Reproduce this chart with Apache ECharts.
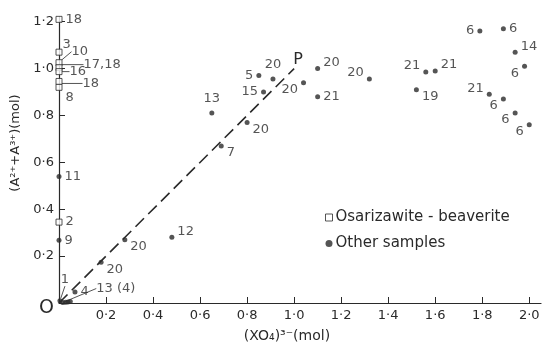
<!DOCTYPE html>
<html>
<head>
<meta charset="utf-8">
<script src="https://cdn.jsdelivr.net/npm/echarts@6/dist/echarts.min.js"></script>
<style>
  html, body { margin: 0; padding: 0; background: #fff; }
  #chart { width: 543px; height: 348px; }
</style>
</head>
<body>
<div id="chart"></div>
<script>
// Osarizawite-beaverite group: plotted on the vertical axis (XO4 = 0)
const sqX   = [0, 0, 0, 0, 0, 0, 0, 0];
const sqY   = [1.21, 1.07, 1.025, 1.004, 0.987, 0.945, 0.92, 0.345];
const sqTag = ['18', '3', '10', '17,18', '16', '18', '8', '2'];

// Other samples
const otX = [0, 0, 0.004, 0.016, 0.028, 0.038, 0.048, 0.068, 0.179, 0.28, 0.48, 0.69, 0.80, 0.65, 0.87, 0.85,
             0.91, 1.04, 1.10, 1.10, 1.32, 1.52, 1.56, 1.60, 1.79, 1.89, 1.94, 1.98, 1.83, 1.89, 1.94, 2.0];
const otY = [0.54, 0.268, 0.01, 0.002, 0.003, 0.004, 0.006, 0.047, 0.174, 0.27, 0.28, 0.67, 0.77, 0.81, 0.90, 0.97,
             0.955, 0.94, 1.0, 0.88, 0.955, 0.91, 0.985, 0.99, 1.16, 1.17, 1.07, 1.01, 0.89, 0.87, 0.81, 0.76];
const otTag = ['11', '9', '1', '13 (4)', '', '', '', '4', '20', '20', '12', '7', '20', '13', '15', '5',
               '20', '20', '20', '21', '20', '19', '21', '21', '6', '6', '14', '6', '21', '6', '6', '6'];

// Ideal line O–P
const lineX = [0, 1.0];
const lineY = [0, 1.0];

const xTicks = [0.2, 0.4, 0.6, 0.8, 1.0, 1.2, 1.4, 1.6, 1.8, 2.0];
const yTicks = [0, 0.2, 0.4, 0.6, 0.8, 1.0, 1.2];

// label placement for each point (layout only): side + [dx, dy] shift
const sqPlace = ['r', 'r', 'r', 'r', 'r', 'r', 'rb3', 'r'];
const sqShift = [null, [-3, -8], [6, -11], [18, -3], [4, 0], [17, 2], null, null];
const sqLead  = [false, false, true, true, true, true, false, false];

const otPlace = ['r', 'r', 't', 'r', null, null, null, 'r', 'rb', 'rb', 'rt', 'rb', 'rb', 't', 'l', 'l',
                 't', 'lb', 'rt', 'r', 'lt', 'rb', 'lt', 'rt', 'l', 'r', 'rt', 'lb', 'lt', 'lb', 'lb', 'lb'];
const otShift = [];
otShift[2] = [5, -9];
otShift[3] = [28, -14];
const otLead = [];
otLead[2] = true;
otLead[3] = true;

const INK = '#2a2a2a';
const FONT = 'DejaVu Sans';

const sideOf = { r: 'right', l: 'left', t: 'top' };
const dyOf = { '': 0, t: -6, b: 7, t3: -9, b3: 10 };

function buildData(xs, ys, tags, places, leads) {
  return xs.map((x, i) => {
    const item = { value: [x, ys[i]] };
    const p = places[i];
    if (p && tags[i]) {
      item.label = { show: true, position: sideOf[p[0]], formatter: tags[i], distance: 3 };
      if (leads[i]) {
        item.labelLine = { show: true, lineStyle: { color: INK, width: 0.8 } };
      }
    } else {
      item.label = { show: false };
    }
    return item;
  });
}

function shiftFor(places, shifts) {
  return function (params) {
    const s = shifts[params.dataIndex];
    if (s) return { dx: s[0], dy: s[1] };
    const p = places[params.dataIndex];
    if (!p || p[0] === 't') return { dy: p ? -2 : 0 };
    return { dy: dyOf[p.slice(1)] || 0 };
  };
}

const fmt = v => v.toFixed(1).replace('.', '\u00b7');

const chart = echarts.init(document.getElementById('chart'), null, { renderer: 'canvas' });

chart.setOption({
  backgroundColor: '#fff',
  animation: false,
  textStyle: { fontFamily: FONT, color: INK },
  grid: { left: 59, right: 2, top: 17, bottom: 44, containLabel: false },
  legend: {
    left: 320, top: 205, orient: 'vertical', itemGap: 11,
    itemWidth: 7, itemHeight: 7, itemStyle: { borderWidth: 1 },
    textStyle: { fontFamily: FONT, fontSize: 15, color: INK, padding: [0, 0, 0, -2] },
    data: ['Osarizawite - beaverite', 'Other samples']
  },
  xAxis: {
    type: 'value', min: 0, max: 2.05, interval: 0.2,
    name: '(XO\u2084)\u00b3\u207b(mol)', nameLocation: 'middle', nameGap: 26,
    nameTextStyle: { fontFamily: FONT, fontSize: 14, color: INK, padding: [0, 26, 0, 0] },
    axisLine: { lineStyle: { color: INK, width: 1.2 } },
    axisTick: { inside: true, length: 6, customValues: xTicks, lineStyle: { color: INK } },
    axisLabel: { customValues: xTicks, formatter: fmt, fontSize: 13, color: INK, margin: 6 },
    splitLine: { show: false }
  },
  yAxis: {
    type: 'value', min: 0, max: 1.22, interval: 0.2,
    name: '(A\u00b2\u207a+A\u00b3\u207a)(mol)', nameLocation: 'middle', nameGap: 26,
    nameTextStyle: { fontFamily: FONT, fontSize: 13, color: INK, padding: [0, 0, 0, 34] },
    axisLine: { onZero: false, lineStyle: { color: INK, width: 1.2 } },
    axisTick: { inside: true, length: 6, customValues: yTicks.slice(1), lineStyle: { color: INK } },
    axisLabel: {
      customValues: yTicks, fontSize: 13, color: INK, margin: 5,
      formatter: v => (v === 0 ? '{o|O}' : fmt(v)),
      rich: { o: { fontSize: 19, fontFamily: FONT, color: INK, padding: [10, 0, 0, 0] } }
    },
    splitLine: { show: false }
  },
  series: [
    {
      name: 'ideal',
      type: 'line',
      data: lineX.map((x, i) => ({
        value: [x, lineY[i]],
        label: i === lineX.length - 1
          ? { show: true, position: 'top', formatter: 'P', fontSize: 16, color: INK }
          : { show: false }
      })),
      labelLayout: p => (p.dataIndex === lineX.length - 1 ? { dx: 4, dy: 5 } : {}),
      showSymbol: true, symbol: 'circle', symbolSize: 1,
      itemStyle: { color: 'rgba(0,0,0,0)' },
      lineStyle: { color: INK, width: 1.6, type: [12, 6] },
      silent: true, z: 1
    },
    {
      name: 'Osarizawite - beaverite',
      type: 'scatter',
      symbol: 'rect', symbolSize: 6,
      itemStyle: { color: '#fff', borderColor: INK, borderWidth: 1 },
      label: { fontFamily: FONT, fontSize: 13, color: INK },
      labelLayout: shiftFor(sqPlace, sqShift),
      data: buildData(sqX, sqY, sqTag, sqPlace, sqLead),
      clip: false, z: 3
    },
    {
      name: 'Other samples',
      type: 'scatter',
      symbol: 'circle', symbolSize: 5,
      itemStyle: { color: INK },
      label: { fontFamily: FONT, fontSize: 13, color: INK },
      labelLayout: shiftFor(otPlace, otShift),
      data: buildData(otX, otY, otTag, otPlace, otLead),
      clip: false, z: 3
    }
  ]
});
</script>
</body>
</html>
